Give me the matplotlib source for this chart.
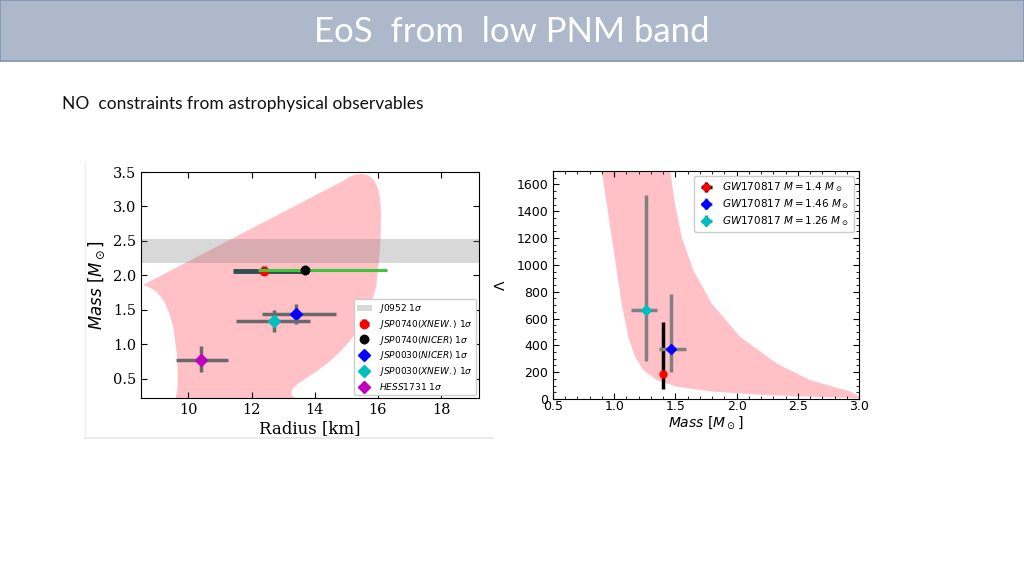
import matplotlib.pyplot as plt
from matplotlib.patches import Rectangle
from matplotlib.lines import Line2D
from matplotlib.ticker import MultipleLocator

# ---- data ----
# left panel: allowed M-R band (outline)
band_r = [9.60, 9.66, 9.66, 9.64, 9.58, 9.52, 9.40, 9.22, 9.00, 8.75, 8.56,
          14.90, 15.10, 15.30, 15.50, 15.70, 15.88, 16.00, 16.07, 16.10, 16.08,
          16.03, 15.95, 15.80, 15.60, 15.35, 15.10, 14.80, 14.47, 14.10, 13.74,
          13.45, 13.30, 13.25, 13.35]
band_m = [0.22, 0.37, 0.60, 0.85, 1.05, 1.25, 1.45, 1.63, 1.76, 1.83, 1.86,
          3.37, 3.43, 3.465, 3.47, 3.45, 3.38, 3.26, 3.10, 2.90, 2.50,
          2.20, 1.85, 1.60, 1.40, 1.20, 1.04, 0.89, 0.75, 0.62, 0.51,
          0.42, 0.35, 0.28, 0.22]

j0952_lo, j0952_hi = 2.18, 2.53

# NICER / X-ray points: name, R, R-, R+, M, M-, M+
psr_names = [r'$JSP0740(XNEW.)\ 1\sigma$', r'$JSP0740(NICER)\ 1\sigma$',
             r'$JSP0030(NICER)\ 1\sigma$', r'$JSP0030(XNEW.)\ 1\sigma$',
             r'$HESS1731\ 1\sigma$']
psr_r = [12.39, 13.70, 13.40, 12.71, 10.40]
psr_r_lo = [0.98, 1.50, 1.08, 1.19, 0.78]
psr_r_hi = [1.30, 2.60, 1.26, 1.14, 0.86]
psr_m = [2.07, 2.08, 1.44, 1.34, 0.77]
psr_m_lo = [0.07, 0.07, 0.15, 0.16, 0.17]
psr_m_hi = [0.07, 0.07, 0.14, 0.15, 0.20]

# right panel: tidal deformability band
lam_m_lo = [0.898, 0.939, 0.979, 1.020, 1.061, 1.115, 1.170, 1.238, 1.347, 1.510,
            1.810, 2.220, 3.000]
lam_lo = [1704, 1456, 1208, 960, 712, 464, 315, 216, 141, 92, 55, 30, 5]
lam_m_hi = [1.456, 1.497, 1.551, 1.646, 1.796, 2.028, 2.327, 2.600, 2.930, 3.000]
lam_hi = [1704, 1456, 1208, 960, 712, 464, 265, 141, 55, 17]

gw_names = [r'$GW170817\ M = 1.4\ M_\odot$', r'$GW170817\ M = 1.46\ M_\odot$',
            r'$GW170817\ M = 1.26\ M_\odot$']
gw_m = [1.40, 1.46, 1.26]
gw_m_lo = [0.0, 0.09, 0.12]
gw_m_hi = [0.0, 0.13, 0.09]
gw_lam = [190, 370, 662]
gw_lam_lo = [119, 172, 377]
gw_lam_hi = [384, 411, 856]

# ---- figure ----
fig = plt.figure(figsize=(10.24, 5.76), dpi=100)

# title bar
fig.patches.append(Rectangle((0, 1 - 61 / 576), 1, 61 / 576, transform=fig.transFigure,
                             facecolor='#adb9ca', edgecolor='#7f93b4', lw=1.2, zorder=0))
fig.text(0.5, 1 - 32 / 576, 'EoS  from  low PNM band', color='white', fontsize=25,
         family='Lato', ha='center', va='center')
fig.text(62 / 1024, 1 - 104 / 576, 'NO  constraints from astrophysical observables',
         fontsize=12.5, family='Lato', ha='left', va='center', color='#111111')

# faint frame of the pasted left image
fig.add_artist(Line2D([85 / 1024, 493 / 1024], [1 - 438 / 576, 1 - 438 / 576],
                      transform=fig.transFigure, color='#e6e6e6', lw=1.2))
fig.add_artist(Line2D([85 / 1024, 85 / 1024], [1 - 438 / 576, 1 - 162 / 576],
                      transform=fig.transFigure, color='#eeeeee', lw=1.0))

# ---- left: mass-radius ----
ax1 = fig.add_axes([141 / 1024, 1 - 398 / 576, 338 / 1024, 226 / 576])
ax1.fill(band_r, band_m, color='#ffc0c6', lw=0, zorder=1)
gray = ax1.axhspan(j0952_lo, j0952_hi, color='gray', alpha=0.3, lw=0, zorder=2)

psr_colors = ['red', 'black', 'blue', 'c', 'm']
psr_ecolors = ['#2f4f4f', '#3cc63c', 'dimgray', 'dimgray', 'dimgray']
psr_markers = ['o', 'o', 'D', 'D', 'D']
psr_lw = [3.5, 2.2, 2.5, 2.5, 2.5]
draw_order = [1, 0, 2, 3, 4]
handles = {}
for i in draw_order:
    handles[i] = ax1.errorbar(psr_r[i], psr_m[i], xerr=[[psr_r_lo[i]], [psr_r_hi[i]]],
                              yerr=[[psr_m_lo[i]], [psr_m_hi[i]]], fmt=psr_markers[i],
                              color=psr_colors[i], ecolor=psr_ecolors[i],
                              elinewidth=psr_lw[i], ms=6, zorder=4 + i)

ax1.set_xlim(8.5, 19.2)
ax1.set_ylim(0.22, 3.5)
ax1.set_xticks([10, 12, 14, 16, 18])
ax1.set_yticks([0.5, 1.0, 1.5, 2.0, 2.5, 3.0, 3.5])
ax1.tick_params(direction='in', top=True, right=True, labelsize=10.5, length=4)
for lab in ax1.get_xticklabels() + ax1.get_yticklabels():
    lab.set_family('DejaVu Serif')
ax1.set_xlabel('Radius [km]', family='DejaVu Serif', fontsize=12, labelpad=2)
ax1.set_ylabel(r'$Mass\ [M_\odot]$', fontsize=12, labelpad=4)
leg_h = [gray] + [handles[i] for i in range(5)]
leg_l = [r'$J0952\ 1\sigma$'] + psr_names
ax1.legend(leg_h, leg_l, loc='lower right', fontsize=6.5, borderpad=0.4, labelspacing=0.3,
           handlelength=1.6, handletextpad=0.8, framealpha=1, edgecolor='#cccccc',
           borderaxespad=0.3)

# ---- right: Lambda vs mass ----
ax2 = fig.add_axes([553 / 1024, 1 - 399 / 576, 306 / 1024, 228 / 576])
ax2.fill(lam_m_lo + lam_m_hi[::-1], lam_lo + lam_hi[::-1], color='#ffc0c6', lw=0, zorder=1)

gw_colors = ['red', 'blue', 'c']
gw_ecolors = ['black', 'gray', 'gray']
gw_markers = ['o', 'D', 'D']
for i in range(3):
    ax2.errorbar(gw_m[i], gw_lam[i], xerr=[[gw_m_lo[i]], [gw_m_hi[i]]],
                 yerr=[[gw_lam_lo[i]], [gw_lam_hi[i]]], fmt=gw_markers[i],
                 color=gw_colors[i], ecolor=gw_ecolors[i], elinewidth=2.5,
                 ms=5, zorder=4, label=gw_names[i])

ax2.set_xlim(0.5, 3.0)
ax2.set_ylim(0, 1700)
ax2.xaxis.set_major_locator(MultipleLocator(0.5))
ax2.xaxis.set_minor_locator(MultipleLocator(0.1))
ax2.yaxis.set_major_locator(MultipleLocator(200))
ax2.yaxis.set_minor_locator(MultipleLocator(50))
ax2.tick_params(which='both', direction='in', top=True, right=True, labelsize=9)
ax2.tick_params(which='major', length=4)
ax2.tick_params(which='minor', length=2)
ax2.tick_params(axis='x', pad=1)
ax2.set_xlabel(r'$Mass\ [M_\odot]$', fontsize=10, labelpad=1)
ax2.set_ylabel(r'$\Lambda$', fontsize=10, labelpad=6)
ax2.legend(loc='upper right', fontsize=7.5, borderpad=0.4, labelspacing=0.3,
           handlelength=1.5, handletextpad=0.8, framealpha=1, edgecolor='#cccccc')

fig.savefig('out.png', dpi=100)
